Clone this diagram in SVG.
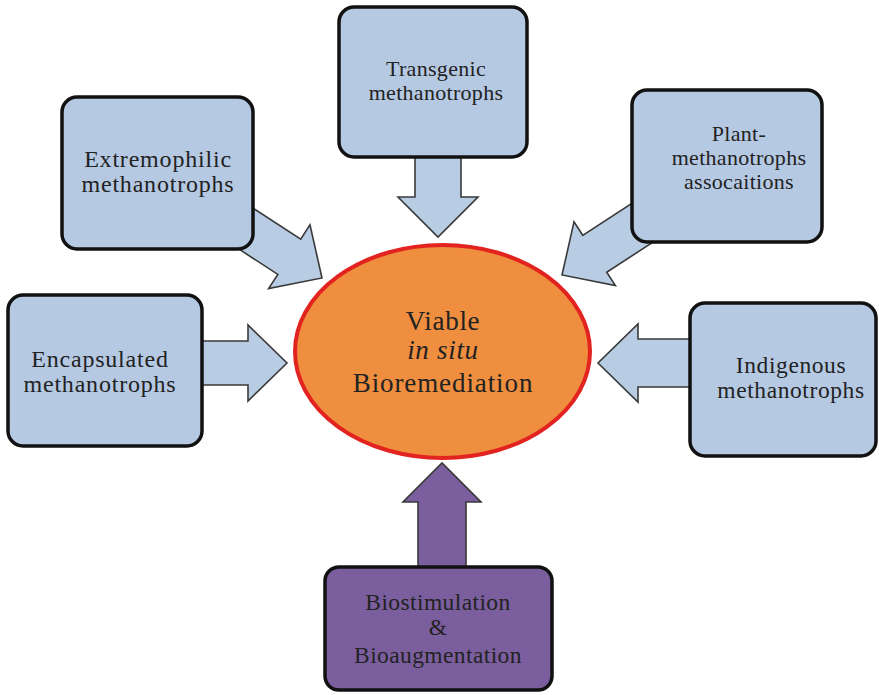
<svg xmlns="http://www.w3.org/2000/svg" width="879" height="695" viewBox="0 0 879 695">
  <style>
    .box { fill: #b5c9e3; stroke: #111; stroke-width: 3.5; }
    .boxp { fill: #7b5e9e; stroke: #111; stroke-width: 3.5; }
    .arr { fill: #b8cce4; stroke: #3a3a3a; stroke-width: 1.6; stroke-linejoin: miter; }
    .arrp { fill: #7b5e9e; stroke: #3a3a3a; stroke-width: 1.6; }
    .core { fill: #ee8e3e; stroke: #e2231f; stroke-width: 4; }
    text { font-family: "Liberation Serif", "Times New Roman", serif; fill: #222; text-anchor: middle; }
    .big { font-size: 24px; letter-spacing: 0.8px; }
    .mid { font-size: 22px; letter-spacing: 0.3px; }
  </style>
  <rect width="879" height="695" fill="#ffffff"/>

  <!-- block arrows: local shape points along +x with the tip at the origin -->
  <g id="connectors">
    <polygon class="arr" transform="translate(438,237) rotate(90)" points="-90,-23 -40,-23 -40,-40 0,0 -40,40 -40,23 -90,23"/>
    <polygon class="arr" transform="translate(322,278) rotate(33)" points="-115,-21 -39,-21 -39,-38 0,0 -39,38 -39,21 -115,21"/>
    <polygon class="arr" transform="translate(562,275) rotate(147)" points="-115,-22 -39,-22 -39,-38 0,0 -39,38 -39,22 -115,22"/>
    <polygon class="arr" transform="translate(287,363)" points="-95,-22 -39,-22 -39,-38 0,0 -39,38 -39,22 -95,22"/>
    <polygon class="arr" transform="translate(598,363) rotate(180)" points="-100,-24 -40,-24 -40,-39 0,0 -40,39 -40,24 -100,24"/>
    <polygon class="arrp" transform="translate(442,463) rotate(-90)" points="-115,-24 -39,-24 -39,-39 0,0 -39,39 -39,24 -115,24"/>
  </g>

  <g id="core">
    <ellipse class="core" cx="442.5" cy="351.5" rx="147.5" ry="106.5"/>
    <text x="443" y="330" font-size="27" letter-spacing="0.7">Viable</text>
    <text x="443" y="359" font-size="27" letter-spacing="0.7" font-style="italic">in situ</text>
    <text x="443" y="392" font-size="27" letter-spacing="0.9">Bioremediation</text>
  </g>

  <g id="transgenic">
    <rect class="box" x="339" y="7" width="188" height="150" rx="15"/>
    <text class="mid" x="436" y="76">Transgenic</text>
    <text class="mid" x="436" y="100">methanotrophs</text>
  </g>

  <g id="extremophilic">
    <rect class="box" x="62" y="97" width="191" height="152" rx="15"/>
    <text class="big" x="158" y="167">Extremophilic</text>
    <text class="big" x="158" y="192">methanotrophs</text>
  </g>

  <g id="plant">
    <rect class="box" x="632" y="90" width="190" height="152" rx="15"/>
    <text class="mid" x="739" y="141">Plant-</text>
    <text class="mid" x="739" y="165">methanotrophs</text>
    <text class="mid" x="739" y="189">assocaitions</text>
  </g>

  <g id="encapsulated">
    <rect class="box" x="8" y="295" width="194" height="151" rx="15"/>
    <text class="big" x="100" y="367">Encapsulated</text>
    <text class="big" x="100" y="392">methanotrophs</text>
  </g>

  <g id="indigenous">
    <rect class="box" x="690" y="303" width="186" height="153" rx="15"/>
    <text x="791" y="373" font-size="23.5" letter-spacing="0.6">Indigenous</text>
    <text x="791" y="398" font-size="23.5" letter-spacing="0.6">methanotrophs</text>
  </g>

  <g id="biostimulation">
    <rect class="boxp" x="325" y="567" width="227" height="123" rx="14"/>
    <text x="438" y="610" font-size="23.5" letter-spacing="0.4">Biostimulation</text>
    <text x="438" y="635" font-size="23.5">&amp;</text>
    <text x="438" y="663" font-size="23.5" letter-spacing="0.4">Bioaugmentation</text>
  </g>
</svg>
